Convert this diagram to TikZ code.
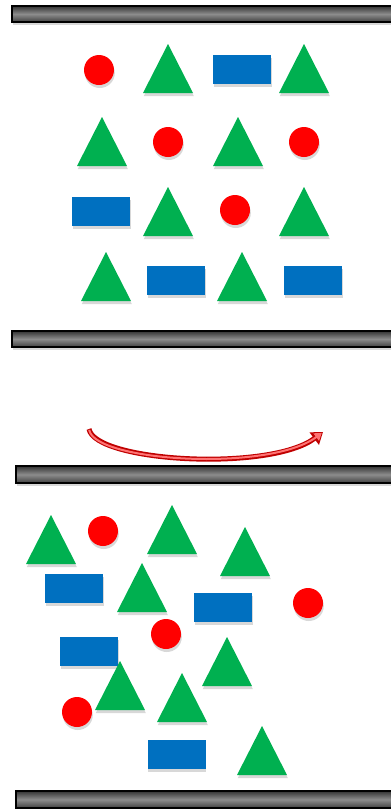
\documentclass[tikz,border=0pt]{standalone}
\usetikzlibrary{shadows,arrows.meta}
\definecolor{shapegreen}{HTML}{00B050}
\definecolor{shapered}{HTML}{FF0000}
\definecolor{shapeblue}{HTML}{0070C0}
\definecolor{arrowred}{HTML}{C00000}

\begin{document}
\begin{tikzpicture}[x=1pt, y=-1pt,
    lift/.style={drop shadow={opacity=0.3, shadow xshift=0.8pt, shadow yshift=-3pt}},
    ball/.style={circle, fill=shapered, minimum size=30pt, inner sep=0pt, lift},
    brick/.style={rectangle, fill=shapeblue, minimum width=58pt, minimum height=29pt, inner sep=0pt, lift},
    plate/.style={draw=black, line width=1.3pt, top color=black!80, bottom color=black!75, middle color=black!45, lift},
    tri/.pic={\fill[shapegreen, lift] (0,0) -- (25,49) -- (-25,49) -- cycle;}
  ]
    \useasboundingbox[fill=white] (0,0) rectangle (391,809);

    \draw[plate] (12,6) rectangle (400,22);
    \draw[plate] (12,331) rectangle (400,347);
    \draw[plate] (16,466) rectangle (400,483);
    \draw[plate] (16,791) rectangle (400,808);

    \node[ball] (b1) at (99,70) {};
    \pic at (168,44) {tri};
    \node[brick] (r1) at (242,69.5) {};
    \pic at (304,44) {tri};

    \pic at (102,117) {tri};
    \node[ball] (b2) at (168,142) {};
    \pic at (238,117) {tri};
    \node[ball] (b3) at (304,142) {};

    \node[brick] (r2) at (101.3,211.5) {};
    \pic at (168,187) {tri};
    \node[ball] (b4) at (235,210) {};
    \pic at (304,187) {tri};

    \pic at (106,252) {tri};
    \node[brick] (r3) at (176,280) {};
    \pic at (242,252) {tri};
    \node[brick] (r4) at (312.7,280) {};

    \coordinate (from) at (89,429);
    \coordinate (to) at (323,432);
    \draw[arrowred, line width=5pt, -{Triangle[length=11pt,width=15pt]}] (from) .. controls (95,462) and (270,472) .. (to);
    \draw[red!55!white, line width=2pt, shorten <=1pt, shorten >=1.5pt, -{Triangle[length=7pt,width=9pt]}] (from) .. controls (95,462) and (270,472) .. (to);

    \pic at (51,515) {tri};
    \node[ball] (b5) at (103,531) {};
    \pic at (172,505) {tri};
    \pic at (245,527) {tri};
    \node[brick] (r5) at (73.7,588) {};
    \pic at (142,563) {tri};
    \node[brick] (r6) at (223.3,607) {};
    \node[ball] (b6) at (308,603) {};
    \node[ball] (b7) at (166,634) {};
    \node[brick] (r7) at (89,651.3) {};
    \pic at (227,637) {tri};
    \pic at (120,661) {tri};
    \node[ball] (b8) at (77,712) {};
    \pic at (182,673) {tri};
    \node[brick] (r8) at (176.5,754.3) {};
    \pic at (262,726) {tri};
  \end{tikzpicture}
\end{document}
